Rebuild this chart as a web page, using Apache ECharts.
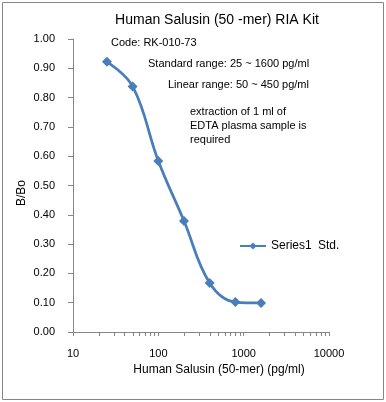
<!DOCTYPE html>
<html>
<head>
<meta charset="utf-8">
<script src="https://cdn.jsdelivr.net/npm/echarts@6/dist/echarts.min.js"></script>
<style>
html,body{margin:0;padding:0;background:#fff;}
#chart{width:386px;height:402px;}
</style>
</head>
<body>
<div id="chart"></div>
<script>
// Data
var concentrations = [25, 50, 100, 200, 400, 800, 1600];
var bOverBo = [0.922, 0.838, 0.584, 0.379, 0.167, 0.102, 0.099];
var yTickValues = [0, 0.1, 0.2, 0.3, 0.4, 0.5, 0.6, 0.7, 0.8, 0.9, 1.0];
var xTickLabels = ['10', '100', '1000', '10000'];
var minorTickValues = [20,30,40,50,60,70,80,90,200,300,400,500,600,700,800,900,2000,3000,4000,5000,6000,7000,8000,9000];
var notes = ['Code: RK-010-73', 'Standard range: 25 ~ 1600 pg/ml', 'Linear range: 50 ~ 450 pg/ml',
             'extraction of 1 ml of', 'EDTA plasma sample is', 'required'];

var FONT = 'Liberation Sans, Arial, sans-serif';
var AXIS_GRAY = '#868686';
var SERIES_COLOR = '#4a7ebb';

var chart = echarts.init(document.getElementById('chart'), null, {renderer: 'canvas'});

var option = {
  backgroundColor: '#ffffff',
  animation: false,
  title: {
    text: 'Human Salusin (50 -mer) RIA Kit',
    left: 212, top: 8, textAlign: 'center',
    textStyle: {fontFamily: FONT, fontSize: 14, fontWeight: 'normal', color: '#000'}
  },
  legend: {
    data: ['Series1'],
    left: 239, top: 240, padding: 0,
    itemWidth: 26, itemHeight: 9,
    textStyle: {fontFamily: FONT, fontSize: 12, color: '#000'}
  },
  grid: {left: 73, right: 57, top: 39, bottom: 70, containLabel: false},
  xAxis: {
    type: 'log', logBase: 10, min: 10, max: 10000,
    name: 'Human Salusin (50-mer) (pg/ml)',
    nameLocation: 'middle', nameGap: 31,
    nameTextStyle: {fontFamily: FONT, fontSize: 12, color: '#000', padding: [0, 0, 0, 36]},
    axisLine: {show: true, lineStyle: {color: AXIS_GRAY, width: 1}},
    axisTick: {show: true, inside: false, length: 4, lineStyle: {color: AXIS_GRAY}},
    minorTick: {show: false},
    splitLine: {show: false},
    axisLabel: {
      margin: 16, fontFamily: FONT, fontSize: 11, color: '#000',
      formatter: function (v) {
        var r = Math.round(v);
        var idx = Math.round(Math.log10(r)) - 1;
        return xTickLabels[idx] !== undefined ? xTickLabels[idx] : String(r);
      }
    }
  },
  yAxis: {
    type: 'value', min: 0, max: 1, interval: 0.1,
    axisLine: {show: true, lineStyle: {color: AXIS_GRAY, width: 1}},
    axisTick: {show: true, inside: false, length: 5, lineStyle: {color: AXIS_GRAY}},
    splitLine: {show: false},
    axisLabel: {
      margin: 18, fontFamily: FONT, fontSize: 11, color: '#000',
      formatter: function (v) { return v.toFixed(2); }
    }
  },
  series: [
    {
      name: 'Series1',
      type: 'line',
      data: concentrations.map(function (c, i) { return [c, bOverBo[i]]; }),
      smooth: 0.4,
      symbol: 'diamond',
      symbolSize: 10,
      itemStyle: {color: SERIES_COLOR},
      lineStyle: {color: SERIES_COLOR, width: 2.75},
      z: 5
    },
    {
      name: 'minorTicks',
      type: 'custom',
      silent: true,
      clip: false,
      data: minorTickValues.map(function (v) { return [v, 0]; }),
      renderItem: function (params, api) {
        var p = api.coord([api.value(0), 0]);
        return {
          type: 'line',
          shape: {x1: Math.round(p[0]) + 0.5, y1: p[1], x2: Math.round(p[0]) + 0.5, y2: p[1] + 4},
          style: {stroke: AXIS_GRAY, lineWidth: 1}
        };
      },
      z: 1
    }
  ],
  graphic: [
    {type: 'rect', shape: {x: 2.5, y: 2.5, width: 381, height: 397}, style: {fill: null, stroke: AXIS_GRAY, lineWidth: 1}, z: -10},
    {type: 'text', x: 22, y: 193, rotation: Math.PI / 2,
     style: {text: 'B/Bo', font: '12px ' + FONT, fill: '#000', align: 'center', verticalAlign: 'middle'}},
    {type: 'text', left: 111, top: 37, style: {text: notes[0], font: '11px ' + FONT, fill: '#000'}},
    {type: 'text', left: 148, top: 58, style: {text: notes[1], font: '11px ' + FONT, fill: '#000'}},
    {type: 'text', left: 168, top: 79, style: {text: notes[2], font: '11px ' + FONT, fill: '#000'}},
    {type: 'text', left: 190, top: 106, style: {text: notes[3], font: '11px ' + FONT, fill: '#000'}},
    {type: 'text', left: 190, top: 120, style: {text: notes[4], font: '11px ' + FONT, fill: '#000'}},
    {type: 'text', left: 190, top: 134, style: {text: notes[5], font: '11px ' + FONT, fill: '#000'}},
    {type: 'text', left: 318, top: 240, style: {text: 'Std.', font: '12px ' + FONT, fill: '#000'}}
  ]
};
chart.setOption(option);
</script>
</body>
</html>
